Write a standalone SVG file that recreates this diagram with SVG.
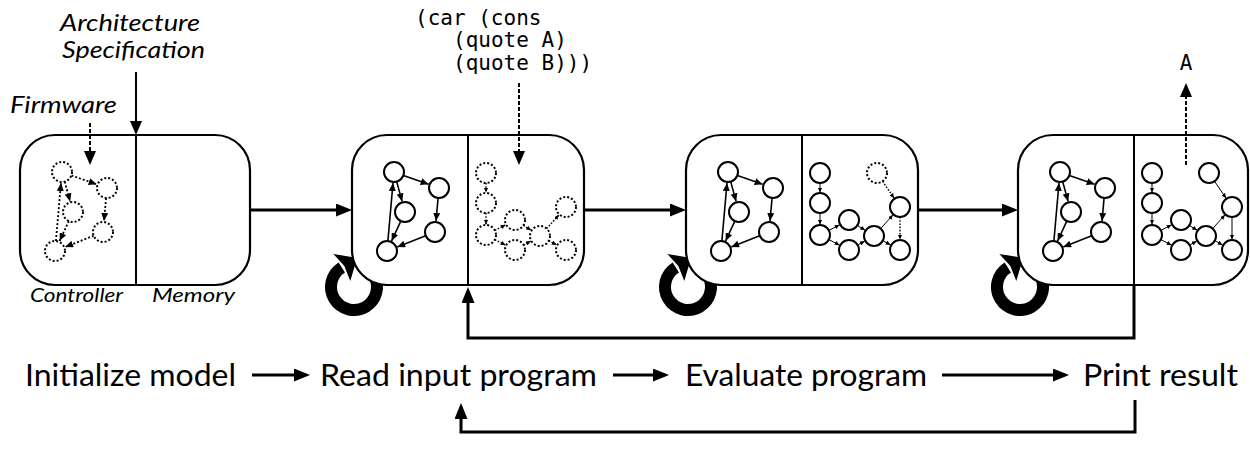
<svg xmlns="http://www.w3.org/2000/svg" xmlns:xlink="http://www.w3.org/1999/xlink" width="1250" height="454" viewBox="0 0 1250 454">
  <style>
    .box { fill: #fff; stroke: #000; stroke-width: 2.2; }
    .div { stroke: #000; stroke-width: 2; }
    .conn { fill: none; stroke: #000; stroke-width: 3; }
    .lbl-arrow { fill: none; stroke: #000; stroke-width: 2; }
    .dash { stroke-dasharray: 4 2; }
    .loop { fill: none; stroke: #000; stroke-width: 12; }
    .node { fill: #fff; stroke: #000; stroke-width: 2; }
    .node-dot { fill: #fff; stroke: #000; stroke-width: 2; stroke-dasharray: 2 2; }
    .edge-c { fill: none; stroke: #000; stroke-width: 1.6; }
    .edge-c-dot { fill: none; stroke: #000; stroke-width: 1.8; stroke-dasharray: 2 2; }
    .edge-m { fill: none; stroke: #000; stroke-width: 1; }
    .edge-m-dot { fill: none; stroke: #000; stroke-width: 1.4; stroke-dasharray: 1.6 1.6; }
    .ital { font-family: Lato, "Open Sans", sans-serif; font-style: italic; fill: #000; }
    .step { font-family: Lato, "Open Sans", sans-serif; font-size: 31px; fill: #000; }
    .code { font-family: "DejaVu Sans Mono", "Liberation Mono", monospace; font-size: 21px; fill: #000; }
  </style>
  <defs>
    <marker id="ah" markerUnits="userSpaceOnUse" markerWidth="16" markerHeight="13" refX="12" refY="6.5" orient="auto">
      <path d="M0,0 L16,6.5 L0,13 Z" fill="#000"/>
    </marker>
    <marker id="am" markerUnits="userSpaceOnUse" markerWidth="14" markerHeight="12" refX="11" refY="6" orient="auto">
      <path d="M0,0 L14,6 L0,12 Z" fill="#000"/>
    </marker>
    <marker id="as" markerUnits="userSpaceOnUse" markerWidth="8" markerHeight="7" refX="8" refY="3.5" orient="auto">
      <path d="M0,0 L8,3.5 L0,7 Z" fill="#000"/>
    </marker>
    <marker id="at" markerUnits="userSpaceOnUse" markerWidth="5" markerHeight="4.4" refX="5" refY="2.2" orient="auto">
      <path d="M0,0 L5,2.2 L0,4.4 Z" fill="#000"/>
    </marker>

    <!-- controller graph, coordinates relative to the box's left edge -->
    <g id="ctrl-solid">
      <line class="edge-c" x1="51.4" y1="175.4" x2="76.6" y2="184.3" marker-end="url(#as)"/>
      <line class="edge-c" x1="44.7" y1="181.6" x2="50.1" y2="201.4" marker-end="url(#as)"/>
      <line class="edge-c" x1="48.8" y1="221.1" x2="39.6" y2="241.0" marker-end="url(#as)"/>
      <line class="edge-c" x1="73.7" y1="235.7" x2="45.2" y2="247.0" marker-end="url(#as)"/>
      <line class="edge-c" x1="35.9" y1="241.0" x2="41.0" y2="183.0" marker-end="url(#as)"/>
      <line class="edge-c" x1="86.1" y1="198.0" x2="84.0" y2="221.0" marker-end="url(#as)"/>
      <circle class="node" cx="42" cy="172" r="10"/>
      <circle class="node" cx="87" cy="188" r="10"/>
      <circle class="node" cx="53" cy="212" r="10"/>
      <circle class="node" cx="83" cy="232" r="10"/>
      <circle class="node" cx="35" cy="251" r="10"/>
    </g>
    <g id="ctrl-dotted">
      <line class="edge-c-dot" x1="51.4" y1="175.4" x2="76.6" y2="184.3" marker-end="url(#as)"/>
      <line class="edge-c-dot" x1="44.7" y1="181.6" x2="50.1" y2="201.4" marker-end="url(#as)"/>
      <line class="edge-c-dot" x1="48.8" y1="221.1" x2="39.6" y2="241.0" marker-end="url(#as)"/>
      <line class="edge-c-dot" x1="73.7" y1="235.7" x2="45.2" y2="247.0" marker-end="url(#as)"/>
      <line class="edge-c-dot" x1="35.9" y1="241.0" x2="41.0" y2="183.0" marker-end="url(#as)"/>
      <line class="edge-c-dot" x1="86.1" y1="198.0" x2="84.0" y2="221.0" marker-end="url(#as)"/>
      <circle class="node-dot" cx="42" cy="172" r="10"/>
      <circle class="node-dot" cx="87" cy="188" r="10"/>
      <circle class="node-dot" cx="53" cy="212" r="10"/>
      <circle class="node-dot" cx="83" cy="232" r="10"/>
      <circle class="node-dot" cx="35" cy="251" r="10"/>
    </g>
  </defs>

  <!-- rotating "repeat" loops, tucked behind the models -->
  <g id="loops">
    <path class="loop" d="M373.9,275.5 A23,23 0 1 1 341.8,267.5"/>
    <polygon points="333.3,253.9 357.1,258 350.3,281.1 344.3,265.9" fill="#000"/>
    <path class="loop" d="M707.9,275.5 A23,23 0 1 1 675.8,267.5"/>
    <polygon points="667.3,253.9 691.1,258 684.3,281.1 678.3,265.9" fill="#000"/>
    <path class="loop" d="M1039.9,275.5 A23,23 0 1 1 1007.8,267.5"/>
    <polygon points="999.3,253.9 1023.1,258 1016.3,281.1 1010.3,265.9" fill="#000"/>
  </g>

  <!-- initial model: controller + empty memory -->
  <g id="init-model">
    <rect class="box" x="20" y="135" width="230" height="150" rx="35"/>
    <line class="div" x1="136" y1="135" x2="136" y2="285"/>
    <use href="#ctrl-dotted" x="20"/>
  </g>

  <!-- model after reading the program -->
  <g id="read-model">
    <rect class="box" x="352" y="135" width="232" height="150" rx="35"/>
    <line class="div" x1="468" y1="135" x2="468" y2="285"/>
    <use href="#ctrl-solid" x="352"/>
    <g transform="translate(468,0)">
      <line class="edge-m-dot" x1="18" y1="183" x2="18" y2="192.5" marker-end="url(#at)"/>
      <line class="edge-m-dot" x1="18" y1="213" x2="18" y2="224.5" marker-end="url(#at)"/>
      <line class="edge-m-dot" x1="26.9" y1="230.4" x2="37.7" y2="224.8" marker-end="url(#at)"/>
      <line class="edge-m-dot" x1="26.9" y1="239.6" x2="37.7" y2="245.2" marker-end="url(#at)"/>
      <line class="edge-m-dot" x1="55.4" y1="225.4" x2="63.2" y2="230.3" marker-end="url(#at)"/>
      <line class="edge-m-dot" x1="55.7" y1="245.1" x2="62.8" y2="241.1" marker-end="url(#at)"/>
      <line class="edge-m-dot" x1="78.7" y1="228.6" x2="91.0" y2="214.8" marker-end="url(#at)"/>
      <line class="edge-m-dot" x1="80.8" y1="240.7" x2="88.7" y2="245.0" marker-end="url(#at)"/>
      <circle class="node-dot" cx="18" cy="173" r="10"/>
      <circle class="node-dot" cx="18" cy="203" r="10"/>
      <circle class="node-dot" cx="18" cy="235" r="10"/>
      <circle class="node-dot" cx="47" cy="220" r="10"/>
      <circle class="node-dot" cx="47" cy="250" r="10"/>
      <circle class="node-dot" cx="72" cy="236" r="10"/>
      <circle class="node-dot" cx="98" cy="207" r="10"/>
      <circle class="node-dot" cx="98" cy="250" r="10"/>
    </g>
  </g>

  <!-- model while evaluating -->
  <g id="eval-model">
    <rect class="box" x="686" y="135" width="232" height="150" rx="35"/>
    <line class="div" x1="802" y1="135" x2="802" y2="285"/>
    <use href="#ctrl-solid" x="686"/>
    <g transform="translate(802,0)">
      <line class="edge-m" x1="18" y1="183" x2="18" y2="192.5" marker-end="url(#at)"/>
      <line class="edge-m" x1="18" y1="213" x2="18" y2="224.5" marker-end="url(#at)"/>
      <line class="edge-m" x1="26.9" y1="230.4" x2="37.7" y2="224.8" marker-end="url(#at)"/>
      <line class="edge-m" x1="26.9" y1="239.6" x2="37.7" y2="245.2" marker-end="url(#at)"/>
      <line class="edge-m" x1="55.4" y1="225.4" x2="63.2" y2="230.3" marker-end="url(#at)"/>
      <line class="edge-m" x1="55.7" y1="245.1" x2="62.8" y2="241.1" marker-end="url(#at)"/>
      <line class="edge-m" x1="78.7" y1="228.6" x2="91.0" y2="214.8" marker-end="url(#at)"/>
      <line class="edge-m" x1="80.8" y1="240.7" x2="88.7" y2="245.0" marker-end="url(#at)"/>
      <line class="edge-m-dot" x1="80.6" y1="181.3" x2="92.1" y2="198.3" marker-end="url(#at)"/>
      <line class="edge-m-dot" x1="98" y1="217" x2="98" y2="239.5" marker-end="url(#at)"/>
      <circle class="node" cx="18" cy="173" r="10"/>
      <circle class="node" cx="18" cy="203" r="10"/>
      <circle class="node" cx="18" cy="235" r="10"/>
      <circle class="node" cx="47" cy="220" r="10"/>
      <circle class="node" cx="47" cy="250" r="10"/>
      <circle class="node" cx="72" cy="236" r="10"/>
      <circle class="node" cx="98" cy="207" r="10"/>
      <circle class="node" cx="98" cy="250" r="10"/>
      <circle class="node-dot" cx="75" cy="173" r="10"/>
    </g>
  </g>

  <!-- model ready to print -->
  <g id="print-model">
    <rect class="box" x="1018" y="135" width="230" height="150" rx="35"/>
    <line class="div" x1="1134" y1="135" x2="1134" y2="285"/>
    <use href="#ctrl-solid" x="1018"/>
    <g transform="translate(1134,0)">
      <line class="edge-m" x1="18" y1="183" x2="18" y2="192.5" marker-end="url(#at)"/>
      <line class="edge-m" x1="18" y1="213" x2="18" y2="224.5" marker-end="url(#at)"/>
      <line class="edge-m" x1="26.9" y1="230.4" x2="37.7" y2="224.8" marker-end="url(#at)"/>
      <line class="edge-m" x1="26.9" y1="239.6" x2="37.7" y2="245.2" marker-end="url(#at)"/>
      <line class="edge-m" x1="55.4" y1="225.4" x2="63.2" y2="230.3" marker-end="url(#at)"/>
      <line class="edge-m" x1="55.7" y1="245.1" x2="62.8" y2="241.1" marker-end="url(#at)"/>
      <line class="edge-m" x1="78.7" y1="228.6" x2="91.0" y2="214.8" marker-end="url(#at)"/>
      <line class="edge-m" x1="80.8" y1="240.7" x2="88.7" y2="245.0" marker-end="url(#at)"/>
      <line class="edge-m" x1="80.6" y1="181.3" x2="92.1" y2="198.3" marker-end="url(#at)"/>
      <line class="edge-m" x1="98" y1="217" x2="98" y2="239.5" marker-end="url(#at)"/>
      <circle class="node" cx="18" cy="173" r="10"/>
      <circle class="node" cx="18" cy="203" r="10"/>
      <circle class="node" cx="18" cy="235" r="10"/>
      <circle class="node" cx="47" cy="220" r="10"/>
      <circle class="node" cx="47" cy="250" r="10"/>
      <circle class="node" cx="72" cy="236" r="10"/>
      <circle class="node" cx="98" cy="207" r="10"/>
      <circle class="node" cx="98" cy="250" r="10"/>
      <circle class="node" cx="75" cy="173" r="10"/>
    </g>
  </g>

  <!-- connectors -->
  <g id="connectors">
    <!-- model to model -->
    <path class="conn" d="M251,210 H348" marker-end="url(#ah)"/>
    <path class="conn" d="M584,210 H682" marker-end="url(#ah)"/>
    <path class="conn" d="M918,210 H1014" marker-end="url(#ah)"/>
    <!-- print back to read -->
    <path class="conn" d="M1134,285 V338 H468 V291" marker-end="url(#ah)"/>

    <!-- inputs and output -->
    <path class="lbl-arrow" d="M136,72 V132" marker-end="url(#am)"/>
    <path class="lbl-arrow dash" d="M90,123 V162" marker-end="url(#am)"/>
    <path class="lbl-arrow dash" d="M519,83 V162" marker-end="url(#am)"/>
    <path class="lbl-arrow dash" d="M1186,165 V86" marker-end="url(#am)"/>

    <!-- step row -->
    <path class="conn" d="M252,375 H306" marker-end="url(#ah)"/>
    <path class="conn" d="M613,375 H665" marker-end="url(#ah)"/>
    <path class="conn" d="M942,375 H1065" marker-end="url(#ah)"/>
    <path class="conn" d="M1135,400 V432 H461 V407" marker-end="url(#ah)"/>
  </g>

  <!-- labels -->
  <g id="arch-spec">
    <text class="ital" x="60" y="31" font-size="24" textLength="140" lengthAdjust="spacingAndGlyphs">Architecture</text>
    <text class="ital" x="62" y="58" font-size="24" textLength="143" lengthAdjust="spacingAndGlyphs">Specification</text>
  </g>
  <g id="firmware">
    <text class="ital" x="10" y="113" font-size="24" textLength="107" lengthAdjust="spacingAndGlyphs">Firmware</text>
  </g>
  <g id="part-labels">
    <text class="ital" x="30" y="302" font-size="19" textLength="93" lengthAdjust="spacingAndGlyphs">Controller</text>
    <text class="ital" x="152" y="302" font-size="19" textLength="83" lengthAdjust="spacingAndGlyphs">Memory</text>
  </g>
  <g id="input-program">
    <text class="code" x="415" y="25" xml:space="preserve">(car (cons</text>
    <text class="code" x="453" y="47" xml:space="preserve">(quote A)</text>
    <text class="code" x="453" y="70" xml:space="preserve">(quote B)))</text>
  </g>
  <g id="output">
    <text class="code" x="1186" y="70" text-anchor="middle">A</text>
  </g>

  <!-- step row -->
  <g id="step-init"><text class="step" x="25" y="386" textLength="211" lengthAdjust="spacingAndGlyphs">Initialize model</text></g>
  <g id="step-read"><text class="step" x="320" y="386" textLength="277" lengthAdjust="spacingAndGlyphs">Read input program</text></g>
  <g id="step-eval"><text class="step" x="685" y="386" textLength="242" lengthAdjust="spacingAndGlyphs">Evaluate program</text></g>
  <g id="step-print"><text class="step" x="1083" y="386" textLength="155" lengthAdjust="spacingAndGlyphs">Print result</text></g>
</svg>
